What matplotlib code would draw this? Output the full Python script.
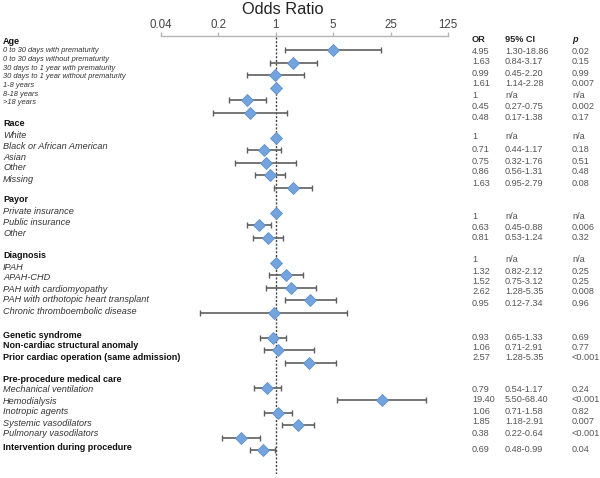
import numpy as np
import matplotlib
matplotlib.use("Agg")
import matplotlib.pyplot as plt

plt.rcParams['font.family'] = ['Liberation Sans', 'DejaVu Sans']

W, H = 600, 478

# ---------------- data ----------------
section_headers = ["Age", "Race", "Payor", "Diagnosis", "Genetic syndrome",
                   "Non-cardiac structural anomaly",
                   "Prior cardiac operation (same admission)",
                   "Pre-procedure medical care", "Intervention during procedure"]

age_labels = ["0 to 30 days with prematurity", "0 to 30 days without prematurity",
              "30 days to 1 year with prematurity", "30 days to 1 year without prematurity",
              "1-8 years", "8-18 years", ">18 years"]
race_labels = ["White", "Black or African American", "Asian", "Other", "Missing"]
payor_labels = ["Private insurance", "Public insurance", "Other"]
diag_labels = ["IPAH", "APAH-CHD", "PAH with cardiomyopathy",
               "PAH with orthotopic heart transplant", "Chronic thromboembolic disease"]
care_labels = ["Mechanical ventilation", "Hemodialysis", "Inotropic agents",
               "Systemic vasodilators", "Pulmonary vasodilators"]

table_or = ["4.95", "1.63", "0.99", "1.61", "1", "0.45", "0.48",
            "1", "0.71", "0.75", "0.86", "1.63",
            "1", "0.63", "0.81",
            "1", "1.32", "1.52", "2.62", "0.95",
            "0.93", "1.06", "2.57",
            "0.79", "19.40", "1.06", "1.85", "0.38",
            "0.69"]
table_ci = ["1.30-18.86", "0.84-3.17", "0.45-2.20", "1.14-2.28", "n/a", "0.27-0.75", "0.17-1.38",
            "n/a", "0.44-1.17", "0.32-1.76", "0.56-1.31", "0.95-2.79",
            "n/a", "0.45-0.88", "0.53-1.24",
            "n/a", "0.82-2.12", "0.75-3.12", "1.28-5.35", "0.12-7.34",
            "0.65-1.33", "0.71-2.91", "1.28-5.35",
            "0.54-1.17", "5.50-68.40", "0.71-1.58", "1.18-2.91", "0.22-0.64",
            "0.48-0.99"]
table_p = ["0.02", "0.15", "0.99", "0.007", "n/a", "0.002", "0.17",
           "n/a", "0.18", "0.51", "0.48", "0.08",
           "n/a", "0.006", "0.32",
           "n/a", "0.25", "0.25", "0.008", "0.96",
           "0.69", "0.77", "<0.001",
           "0.24", "<0.001", "0.82", "0.007", "<0.001",
           "0.04"]

# plotted estimates (as drawn in the figure), row slot on the plot
plot_slot = [0, 1, 2, 3, 4, 5,
             7, 8, 9, 10, 11,
             13, 14, 15,
             17, 18, 19, 20, 21,
             23, 24, 25,
             27, 28, 29, 30, 31, 32]
plot_or = [4.95, 1.63, 0.99, 1, 0.45, 0.48,
           1, 0.71, 0.75, 0.86, 1.63,
           1, 0.63, 0.81,
           1, 1.32, 1.52, 2.62, 0.95,
           0.93, 1.06, 2.57,
           0.79, 19.40, 1.06, 1.85, 0.38, 0.69]
plot_lo = [1.30, 0.84, 0.45, np.nan, 0.27, 0.17,
           np.nan, 0.44, 0.32, 0.56, 0.95,
           np.nan, 0.45, 0.53,
           np.nan, 0.82, 0.75, 1.28, 0.12,
           0.65, 0.71, 1.28,
           0.54, 5.50, 0.71, 1.18, 0.22, 0.48]
plot_hi = [18.86, 3.17, 2.20, np.nan, 0.75, 1.38,
           np.nan, 1.17, 1.76, 1.31, 2.79,
           np.nan, 0.88, 1.24,
           np.nan, 2.12, 3.12, 5.35, 7.34,
           1.33, 2.91, 5.35,
           1.17, 68.40, 1.58, 2.91, 0.64, 0.99]

xticks = [0.04, 0.2, 1, 5, 25, 125]
xticklabels = ["0.04", "0.2", "1", "5", "25", "125"]

# ---------------- layout (pixels) ----------------
def fx(x):
    return x / W

def fy(y):
    return 1 - y / H

label_y = {
    "Age": 42, "Race": 124, "Payor": 200, "Diagnosis": 256,
    "Genetic syndrome": 335, "Non-cardiac structural anomaly": 346,
    "Prior cardiac operation (same admission)": 358,
    "Pre-procedure medical care": 379, "Intervention during procedure": 448,
}
age_y = [51, 59.5, 68, 76.5, 85.5, 94, 103]
race_y = [135, 146, 157, 168, 179]
payor_y = [211, 222.5, 234]
diag_y = [267, 278, 289, 300, 311]
care_y = [390, 401, 412, 423, 434]

table_y = [51, 62, 73, 84, 95, 106.5, 117,
           136, 150, 161, 172, 183,
           216, 227, 238,
           259, 271, 282, 292, 303,
           337, 347, 358,
           389, 400, 411, 422, 433,
           449]

fig = plt.figure(figsize=(W / 100, H / 100), dpi=100)

# forest axes
ax_left, ax_right, ax_top, ax_bot = 161, 448, 36, 474
ax = fig.add_axes([fx(ax_left), fy(ax_bot), (ax_right - ax_left) / W, (ax_bot - ax_top) / H])
ax.set_xscale('log', base=5)
ax.set_xlim(0.04, 125)
slot0, slot_step = 50, 12.5
ax.set_ylim((ax_bot - slot0) / slot_step, (ax_top - slot0) / slot_step)
ax.patch.set_alpha(0)
for s in ['bottom', 'left', 'right']:
    ax.spines[s].set_visible(False)
ax.spines['top'].set_color('#b5b5b5')
ax.spines['top'].set_linewidth(1.0)
ax.xaxis.set_ticks_position('top')
ax.xaxis.set_label_position('top')
ax.set_xticks(xticks)
ax.set_xticklabels(xticklabels)
ax.xaxis.set_minor_locator(matplotlib.ticker.NullLocator())
ax.tick_params(axis='x', direction='out', length=3, width=1, color='#b5b5b5',
               labelsize=8.3, labelcolor='#444444', pad=0.5)
ax.set_yticks([])

ax.axvline(1, color='#444444', lw=1.0, ls=(0, (1.5, 1.2)), zorder=1)

po = np.array(plot_or)
lo = np.array(plot_lo)
hi = np.array(plot_hi)
ys = np.array(plot_slot)
m = ~np.isnan(lo)
ax.errorbar(po[m], ys[m], xerr=[po[m] - lo[m], hi[m] - po[m]], fmt='none',
            ecolor='#5f5f5f', elinewidth=1.2, capsize=2.0, capthick=1.0, zorder=2)
ax.plot(po, ys, ls='none', marker='D', ms=6.5, mfc='#74a4de', mec='#5f8fcf',
        mew=0.6, zorder=3)

# title
fig.text(fx(283), fy(9.5), "Odds Ratio", ha='center', va='center', fontsize=11.8, color='#222222')

# left labels
hdr_kw = dict(fontsize=6.5, fontweight='bold', color='#111111', va='center', ha='left')
item_kw = dict(fontsize=6.6, style='italic', color='#333333', va='center', ha='left')
age_kw = dict(fontsize=5.4, style='italic', color='#333333', va='center', ha='left')
lx = 3
for h in section_headers:
    fig.text(fx(lx), fy(label_y[h]), h, **hdr_kw)
for t, y in zip(age_labels, age_y):
    fig.text(fx(lx), fy(y), t, **age_kw)
for labels, yy in [(race_labels, race_y), (payor_labels, payor_y),
                   (diag_labels, diag_y), (care_labels, care_y)]:
    for t, y in zip(labels, yy):
        fig.text(fx(lx), fy(y), t, **item_kw)

# table
cx_or, cx_ci, cx_p = 472, 505, 572
th_kw = dict(fontsize=6.6, fontweight='bold', color='#222222', va='center', ha='left')
fig.text(fx(cx_or), fy(40), "OR", **th_kw)
fig.text(fx(cx_ci), fy(40), "95% CI", **th_kw)
fig.text(fx(cx_p), fy(40), "p", style='italic', **th_kw)
tv_kw = dict(fontsize=6.6, color='#555555', va='center', ha='left')
for o, c, p, y in zip(table_or, table_ci, table_p, table_y):
    fig.text(fx(cx_or), fy(y), o, **tv_kw)
    fig.text(fx(cx_ci), fy(y), c, **tv_kw)
    fig.text(fx(cx_p), fy(y), p, **tv_kw)

fig.savefig("out.png", dpi=100, facecolor='white')
